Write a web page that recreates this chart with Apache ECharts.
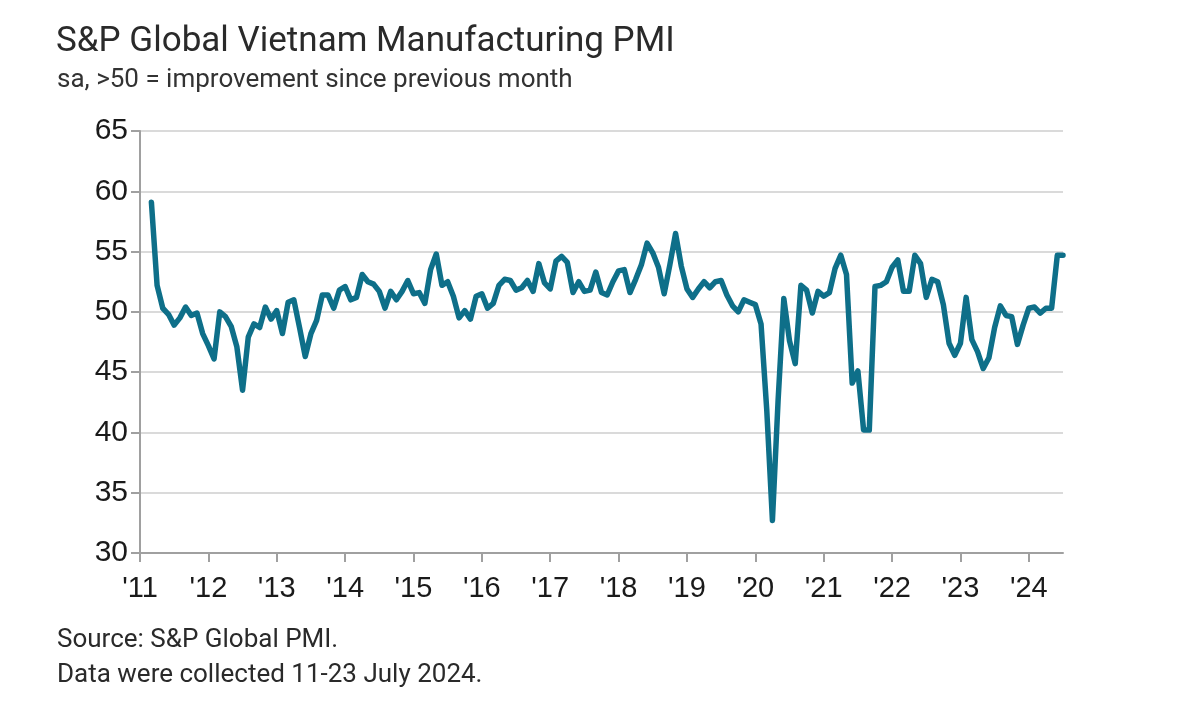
<!DOCTYPE html>
<html><head><meta charset="utf-8">
<script src="https://cdn.jsdelivr.net/npm/echarts@6/dist/echarts.min.js"></script>
<style>html,body{margin:0;padding:0;background:#fff}#c{width:1200px;height:711px}</style>
</head><body><div id="c"></div>
<script>
// Monthly PMI readings, Jan..Dec of each year (null = no data yet)
const pmi2011 = [null, null, 59.1, 52.2, 50.3, 49.8, 48.9, 49.5, 50.4, 49.7, 49.9, 48.2];
const pmi2012 = [47.2, 46.1, 50.0, 49.6, 48.8, 47.1, 43.5, 47.9, 49.0, 48.7, 50.4, 49.4];
const pmi2013 = [50.1, 48.2, 50.8, 51.0, 48.7, 46.3, 48.2, 49.3, 51.4, 51.4, 50.3, 51.8];
const pmi2014 = [52.1, 51.0, 51.2, 53.1, 52.5, 52.3, 51.7, 50.3, 51.7, 51.0, 51.7, 52.6];
const pmi2015 = [51.5, 51.6, 50.7, 53.5, 54.8, 52.2, 52.5, 51.3, 49.5, 50.1, 49.4, 51.3];
const pmi2016 = [51.5, 50.3, 50.7, 52.2, 52.7, 52.6, 51.8, 52.0, 52.6, 51.7, 54.0, 52.4];
const pmi2017 = [51.9, 54.2, 54.6, 54.1, 51.6, 52.5, 51.7, 51.8, 53.3, 51.6, 51.4, 52.5];
const pmi2018 = [53.4, 53.5, 51.6, 52.7, 53.9, 55.7, 54.9, 53.7, 51.5, 53.9, 56.5, 53.8];
const pmi2019 = [51.9, 51.2, 51.9, 52.5, 52.0, 52.5, 52.6, 51.4, 50.5, 50.0, 51.0, 50.8];
const pmi2020 = [50.6, 49.0, 41.9, 32.7, 42.7, 51.1, 47.6, 45.7, 52.2, 51.8, 49.9, 51.7];
const pmi2021 = [51.3, 51.6, 53.6, 54.7, 53.1, 44.1, 45.1, 40.2, 40.2, 52.1, 52.2, 52.5];
const pmi2022 = [53.7, 54.3, 51.7, 51.7, 54.7, 54.0, 51.2, 52.7, 52.5, 50.6, 47.4, 46.4];
const pmi2023 = [47.4, 51.2, 47.7, 46.7, 45.3, 46.2, 48.7, 50.5, 49.7, 49.6, 47.3, 48.9];
const pmi2024 = [50.3, 50.4, 49.9, 50.3, 50.3, 54.7, 54.7];

const years = [2011, 2012, 2013, 2014, 2015, 2016, 2017, 2018, 2019, 2020, 2021, 2022, 2023, 2024];
const yearLabels = ["'11", "'12", "'13", "'14", "'15", "'16", "'17", "'18", "'19", "'20", "'21", "'22", "'23", "'24"];
const yTicks = [30, 35, 40, 45, 50, 55, 60, 65];

const titleText = 'S&P Global Vietnam Manufacturing PMI';
const subtitleText = 'sa, >50 = improvement since previous month';
const sourceText = 'Source: S&P Global PMI.';
const noteText = 'Data were collected 11-23 July 2024.';

const yearly = [pmi2011, pmi2012, pmi2013, pmi2014, pmi2015, pmi2016, pmi2017,
                pmi2018, pmi2019, pmi2020, pmi2021, pmi2022, pmi2023, pmi2024];
const months = [];
const values = [];
yearly.forEach((arr, yi) => {
  arr.forEach((v, mi) => {
    months.push(years[yi] + '-' + String(mi + 1).padStart(2, '0'));
    values.push(v);
  });
});

const chart = echarts.init(document.getElementById('c'), null, {renderer: 'canvas'});
const isJan = (idx) => idx % 12 === 0;
chart.setOption({
  animation: false,
  backgroundColor: '#ffffff',
  grid: {left: 140, right: 137, top: 131, bottom: 158, containLabel: false},
  xAxis: {
    type: 'category',
    data: months,
    boundaryGap: false,
    axisLine: {lineStyle: {color: '#a0a0a0', width: 2}},
    axisTick: {show: true, interval: isJan, length: 9, lineStyle: {color: '#a0a0a0', width: 2}},
    axisLabel: {
      interval: isJan,
      margin: 21,
      fontFamily: 'Liberation Sans',
      fontSize: 29,
      color: '#1a1a1a',
      formatter: (val) => yearLabels[years.indexOf(Number(val.slice(0, 4)))]
    },
    splitLine: {show: false}
  },
  yAxis: {
    type: 'value',
    min: yTicks[0],
    max: yTicks[yTicks.length - 1],
    interval: 5,
    axisLine: {show: true, lineStyle: {color: '#a0a0a0', width: 2}},
    axisTick: {show: true, length: 9, lineStyle: {color: '#a0a0a0', width: 2}},
    axisLabel: {margin: 12, fontFamily: 'Liberation Sans', fontSize: 30, color: '#1a1a1a'},
    splitLine: {show: true, lineStyle: {color: '#dadada', width: 2}}
  },
  series: [{
    type: 'line',
    data: values,
    showSymbol: false,
    connectNulls: false,
    lineStyle: {color: '#0e6f89', width: 5.5, join: 'round', cap: 'round'},
    itemStyle: {color: '#0e6f89'},
    z: 3
  }],
  graphic: [
    {type: 'text', x: 56, y: 42, style: {text: titleText, font: '35px Roboto', fill: '#2a2a2a', verticalAlign: 'middle'}},
    {type: 'text', x: 57, y: 80, style: {text: subtitleText, font: '26px Roboto', fill: '#333333', verticalAlign: 'middle'}},
    {type: 'text', x: 57, y: 640, style: {text: sourceText, font: '26px Roboto', fill: '#2a2a2a', verticalAlign: 'middle'}},
    {type: 'text', x: 57, y: 675, style: {text: noteText, font: '26px Roboto', fill: '#2a2a2a', verticalAlign: 'middle'}}
  ]
});
</script>
</body></html>
